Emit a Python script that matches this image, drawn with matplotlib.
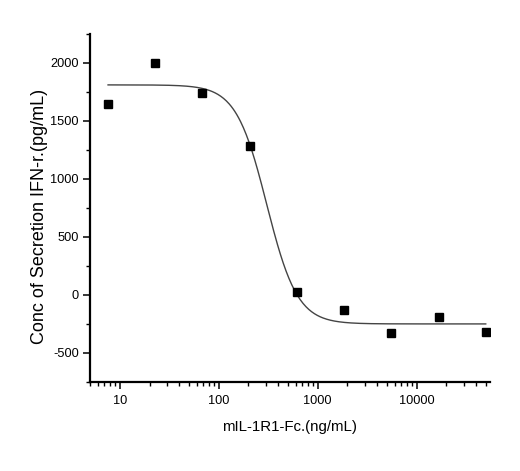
import numpy as np
import matplotlib
matplotlib.use("Agg")
import matplotlib.pyplot as plt
from matplotlib.ticker import LogLocator, MultipleLocator, NullFormatter, FixedLocator

plt.rcParams['font.family'] = ['Liberation Sans', 'DejaVu Sans']
plt.rcParams['axes.unicode_minus'] = False

# 3-fold dilution series, ng/mL
conc = [7.62, 22.9, 68.6, 206, 617, 1852, 5556, 16667, 50000]
ifn = [1646, 2000, 1741, 1286, 20, -132, -334, -193, -319]

# 4PL fit parameters
fit_top = 1810
fit_bottom = -253
fit_ec50 = 306
fit_hill = 2.8

fig = plt.figure(figsize=(5.2, 4.71), dpi=100)
ax = fig.add_axes([0.173, 0.19, 0.769, 0.738])

xs = np.logspace(np.log10(conc[0]), np.log10(conc[-1]), 400)
ys = fit_bottom + (fit_top - fit_bottom) / (1 + (xs / fit_ec50) ** fit_hill)
ax.plot(xs, ys, color='#444444', lw=1.0)
ax.plot(conc, ifn, 's', color='black', ms=5.5, ls='none')

ax.set_xscale('log')
ax.set_xlim(5, 55000)
ax.set_ylim(-750, 2250)

ax.xaxis.set_major_locator(FixedLocator([10, 100, 1000, 10000]))
ax.xaxis.set_major_formatter(plt.FuncFormatter(lambda v, p: f"{int(v)}"))
ax.xaxis.set_minor_locator(LogLocator(base=10, subs=np.arange(2, 10)))
ax.xaxis.set_minor_formatter(NullFormatter())
ax.yaxis.set_major_locator(FixedLocator([-500, 0, 500, 1000, 1500, 2000]))
ax.yaxis.set_minor_locator(MultipleLocator(250))

for s in ['top', 'right']:
    ax.spines[s].set_visible(False)
for s in ['left', 'bottom']:
    ax.spines[s].set_linewidth(1.6)

ax.tick_params(which='major', direction='out', length=5, width=1.1, labelsize=9.2, pad=3)
ax.tick_params(which='major', axis='x', pad=5)
ax.tick_params(which='minor', direction='out', length=3, width=1.0)

ax.set_xlabel('mIL-1R1-Fc.(ng/mL)', fontsize=10.8, labelpad=9)
ax.set_ylabel('Conc of Secretion IFN-r.(pg/mL)', fontsize=13)
ax.yaxis.set_label_coords(-0.105, 0.474)

fig.savefig('out.png', dpi=100, facecolor='white')
